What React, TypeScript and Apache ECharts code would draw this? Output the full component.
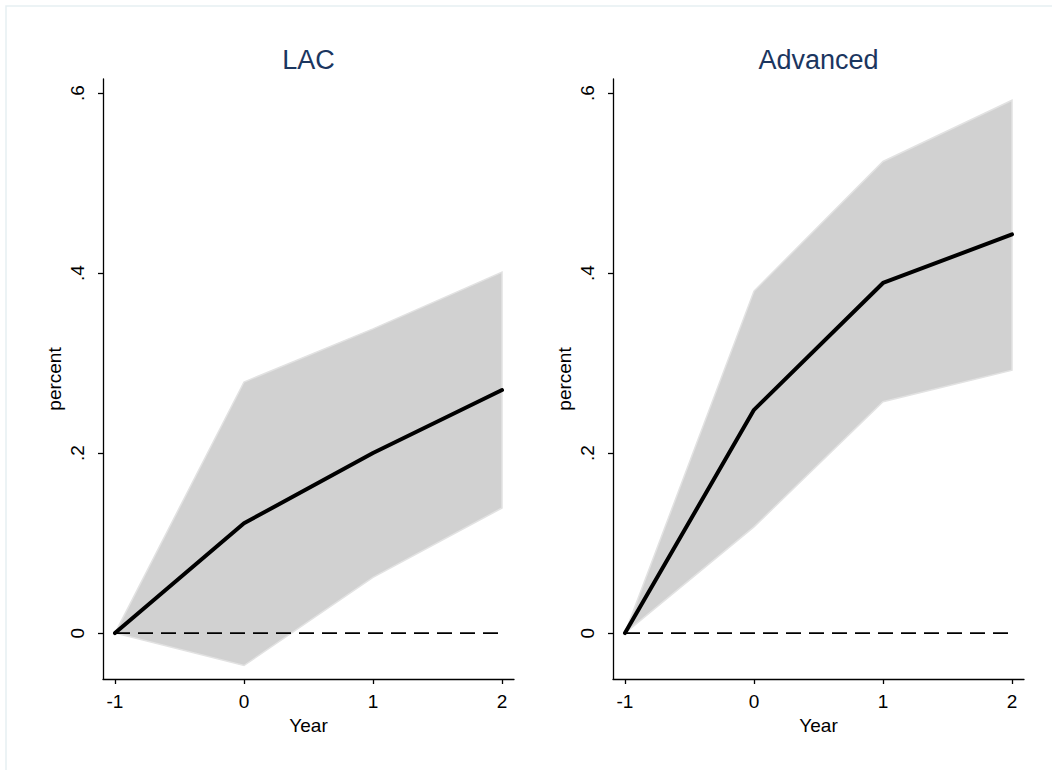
import React, { useEffect, useRef } from "react";
import * as echarts from "echarts";

const years = [-1, 0, 1, 2];
const lacEst = [0, 0.122, 0.2, 0.27];
const lacUpper = [0, 0.279, 0.338, 0.401];
const lacLower = [0, -0.036, 0.062, 0.139];
const advEst = [0, 0.248, 0.389, 0.443];
const advUpper = [0, 0.38, 0.524, 0.592];
const advLower = [0, 0.118, 0.257, 0.292];
const zeroRef = [0, 0, 0, 0];
const xTicks = [-1, 0, 1, 2];
const yTicks = [0, 0.2, 0.4, 0.6];
const yTickLabels = ["0", ".2", ".4", ".6"];
const panelTitles = ["LAC", "Advanced"];

const FONT = "'Liberation Sans', Arial, Helvetica, sans-serif";

export default function App() {
  const ref = useRef<HTMLDivElement>(null);
  useEffect(() => {
    if (!ref.current) return;
    const chart = echarts.init(ref.current, null, { renderer: "svg" });
    const grids = [
      { left: 103, top: 79, width: 411, height: 600 },
      { left: 613, top: 79, width: 411, height: 600 },
    ];
    const xMin = -1.093;
    const xMax = 2.093;
    const yMin = -0.051;
    const yMax = 0.6156;
    const axisLineStyle = { color: "#000", width: 1.3 };
    const xAxes = grids.map((_, i) => ({
      type: "value",
      gridIndex: i,
      min: xMin,
      max: xMax,
      name: "Year",
      nameLocation: "middle",
      nameGap: 35,
      nameTextStyle: { fontFamily: FONT, fontSize: 19, color: "#000" },
      axisLine: { show: true, onZero: false, lineStyle: axisLineStyle },
      axisTick: { show: true, length: 5, customValues: xTicks, lineStyle: axisLineStyle },
      axisLabel: {
        customValues: xTicks,
        margin: 13,
        fontFamily: FONT,
        fontSize: 19,
        color: "#000",
        formatter: (v: number) => String(Math.round(v)),
      },
      splitLine: { show: false },
    }));
    const yAxes = grids.map((_, i) => ({
      type: "value",
      gridIndex: i,
      min: yMin,
      max: yMax,
      name: "percent",
      nameLocation: "middle",
      nameGap: 39,
      nameTextStyle: { fontFamily: FONT, fontSize: 19, color: "#000" },
      axisLine: { show: true, onZero: false, lineStyle: axisLineStyle },
      axisTick: { show: true, length: 5, customValues: yTicks, lineStyle: axisLineStyle },
      axisLabel: {
        customValues: yTicks,
        rotate: 90,
        margin: 16,
        fontFamily: FONT,
        fontSize: 19,
        color: "#000",
        formatter: (v: number) => {
          const idx = yTicks.findIndex((t) => Math.abs(t - v) < 1e-6);
          return idx >= 0 ? yTickLabels[idx] : "";
        },
      },
      splitLine: { show: false },
    }));
    const panels = [
      { est: lacEst, upper: lacUpper, lower: lacLower },
      { est: advEst, upper: advUpper, lower: advLower },
    ];
    const series: any[] = [];
    panels.forEach((p, i) => {
      series.push({
        type: "custom",
        xAxisIndex: i,
        yAxisIndex: i,
        data: [[years[0], p.upper[0]]],
        renderItem: (_params: any, api: any) => {
          const pts: number[][] = [];
          years.forEach((yr, k) => pts.push(api.coord([yr, p.upper[k]])));
          for (let k = years.length - 1; k >= 0; k--) pts.push(api.coord([years[k], p.lower[k]]));
          return {
            type: "polygon",
            shape: { points: pts },
            style: { fill: "#d1d1d1", stroke: "#e2e2e2", lineWidth: 1.5 },
          };
        },
        silent: true,
        z: 1,
      });
      series.push({
        type: "line",
        xAxisIndex: i,
        yAxisIndex: i,
        data: years.map((yr, k) => [yr, zeroRef[k]]),
        showSymbol: false,
        lineStyle: { color: "#000", width: 1.6, type: [15, 8] },
        silent: true,
        z: 2,
      });
      series.push({
        type: "line",
        xAxisIndex: i,
        yAxisIndex: i,
        data: years.map((yr, k) => [yr, p.est[k]]),
        showSymbol: false,
        lineStyle: { color: "#000", width: 4, cap: "round", join: "round" },
        silent: true,
        z: 3,
      });
    });
    chart.setOption({
      animation: false,
      backgroundColor: "#fff",
      grid: grids,
      xAxis: xAxes,
      yAxis: yAxes,
      series,
      graphic: [
        {
          type: "rect",
          shape: { x: 6, y: 6, width: 1060, height: 780 },
          style: { fill: "none", stroke: "#e6eff2", lineWidth: 1.5 },
          silent: true,
        },
        ...grids.map((g, i) => ({
          type: "text",
          x: g.left + g.width / 2,
          y: 60,
          style: {
            text: panelTitles[i],
            align: "center",
            verticalAlign: "middle",
            fontFamily: FONT,
            fontSize: 27,
            fill: "#1b365f",
          },
          silent: true,
        })),
      ],
    });
    return () => chart.dispose();
  }, []);
  return (
    <div
      ref={ref}
      style={{ position: "absolute", left: 0, top: 0, width: 1052, height: 770 }}
    />
  );
}
